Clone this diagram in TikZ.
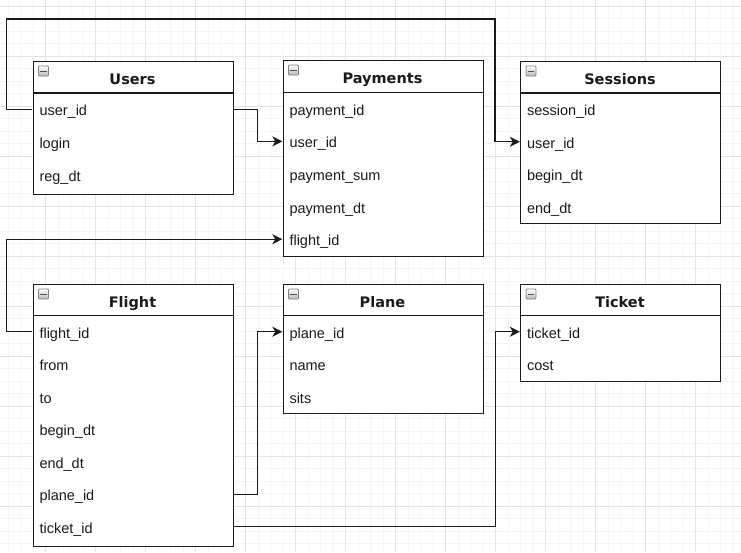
\documentclass[tikz,border=0pt]{standalone}
\usepackage{fontspec}
\setmainfont{Liberation Sans}
\newfontfamily\headfont{DejaVu Sans}
\usetikzlibrary{arrows.meta,calc}
\definecolor{gridminor}{HTML}{F5F5F5}
\definecolor{gridmajor}{HTML}{E4E4E4}
\definecolor{ink}{HTML}{1A1A1A}
\definecolor{icoborder}{HTML}{808080}
\tikzset{
  tabbox/.style={draw=ink, line width=1.4pt, fill=white, rectangle, inner sep=0pt, minimum width=200pt, anchor=north west},
  tabhead/.style={rectangle, inner sep=0pt, font=\headfont\bfseries\fontsize{14.5}{17}\selectfont, text=ink, text height=10.6pt, text depth=0pt},
  tabrow/.style={rectangle, inner xsep=7pt, inner ysep=0pt, text width=186pt, align=left, font=\fontsize{14.5}{17}\selectfont, text=ink, text height=13pt, text depth=0pt},
  minusicon/.style={rectangle, draw=icoborder, line width=0.8pt, top color=white, bottom color=gray!55, minimum size=10pt, inner sep=0pt, rounded corners=1pt},
  conn/.style={draw=ink, line width=1.4pt, -{Stealth[length=10pt,width=10pt,inset=3pt]}},
}
\newcommand\ertab[8]{%
  \pgfmathsetmacro\tabh{#6-#4}%
  \node[tabbox, minimum height=\tabh pt] (#1) at (#3,#4) {};
  \draw[ink, line width=1.4pt] (#3,#5) -- ++(200,0);
  \pgfmathsetmacro\ty{(#4+#5)/2+2.2}%
  \node[tabhead] (#1-h) at (#3+100,\ty) {#2};
  \node[minusicon] (#1-m) at (#3+11,#4+10.5) {};
  \draw[ink!75, line width=1pt] ([xshift=2.3pt]#1-m.west) -- ([xshift=-2.3pt]#1-m.east);
  \foreach \r [count=\i] in {#8} {%
    \pgfmathsetmacro\yy{#5+(\i-0.5)*#7}%
    \node[tabrow, minimum height=#7pt] (#1-\i) at (#3+100,\yy) {\r};
  }%
}
\begin{document}
\begin{tikzpicture}[x=1pt,y=-1pt]
  \useasboundingbox (0,0) rectangle (741,552);
  \fill[white] (0,0) rectangle (741,552);
  % grid
  \foreach \k in {0,...,59} {
    \pgfmathsetmacro\xx{8+12.5*\k}
    \draw[gridminor, line width=0.6pt] (\xx,0) -- (\xx,552);
  }
  \foreach \k in {0,...,44} {
    \pgfmathsetmacro\yy{6+12.5*\k}
    \draw[gridminor, line width=0.6pt] (0,\yy) -- (741,\yy);
  }
  \foreach \k in {0,...,14} {
    \pgfmathsetmacro\xx{45.5+50*\k}
    \draw[gridmajor, line width=0.8pt] (\xx,0) -- (\xx,552);
  }
  \foreach \k in {0,...,11} {
    \pgfmathsetmacro\yy{6+50*\k}
    \draw[gridmajor, line width=0.8pt] (0,\yy) -- (741,\yy);
  }
  % tables
  \ertab{users}{Users}{32.5}{60.5}{93}{194}{32.8}{user\_id, login, reg\_dt}
  \ertab{payments}{Payments}{282.5}{59.5}{92.5}{255.5}{32.6}{payment\_id, user\_id, payment\_sum, payment\_dt, flight\_id}
  \ertab{sessions}{Sessions}{520}{60.5}{93}{223}{32.5}{session\_id, user\_id, begin\_dt, end\_dt}
  \ertab{flight}{Flight}{32.5}{283.5}{315.5}{546}{32.5}{flight\_id, from, to, begin\_dt, end\_dt, plane\_id, ticket\_id}
  \ertab{plane}{Plane}{282.5}{283.5}{315.5}{413}{32.5}{plane\_id, name, sits}
  \ertab{ticket}{Ticket}{520}{283.5}{315.5}{380.5}{32.5}{ticket\_id, cost}
  % connectors
  \coordinate (ctop) at (495,19);
  \draw[conn] (users-1.west) -- ++(-26,0) |- (ctop) |- (sessions-2.west);
  \draw[conn] (users-1.east) -- ++(25,0) |- (payments-2.west);
  \draw[conn] (flight-1.west) -- ++(-26,0) |- (payments-5.west);
  \draw[conn] (flight-6.east) -- ++(25,0) |- (plane-1.west);
  \draw[conn] (flight-7.east) -- ++(262.5,0) |- (ticket-1.west);
\end{tikzpicture}
\end{document}
